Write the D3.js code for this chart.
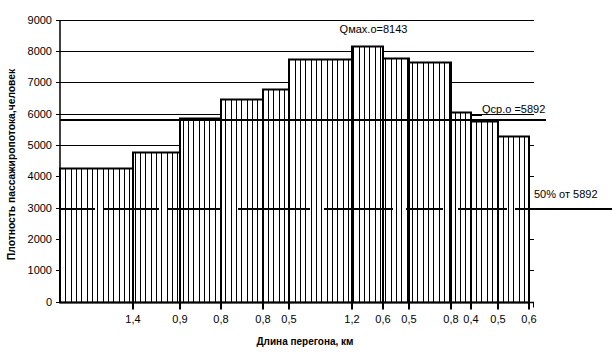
<!DOCTYPE html>
<html>
<head>
<meta charset="utf-8">
<script src="https://cdn.jsdelivr.net/npm/d3@7"></script>
<style>
  body { margin: 0; background: #fff; }
  text { font-family: Arial, "Liberation Sans", sans-serif; fill: #000; }
</style>
</head>
<body>
<script>
"use strict";
// длины перегонов, км
const segLengths = [1.4, 0.9, 0.8, 0.8, 0.5, 1.2, 0.6, 0.5, 0.8, 0.4, 0.5, 0.6];
const segLabels = ["1,4", "0,9", "0,8", "0,8", "0,5", "1,2", "0,6", "0,5", "0,8", "0,4", "0,5", "0,6"];
// плотность пассажиропотока, чел
const flowValues = [4270, 4780, 5870, 6450, 6790, 7740, 8143, 7770, 7630, 6050, 5770, 5290];
const yTicks = [0, 1000, 2000, 3000, 4000, 5000, 6000, 7000, 8000, 9000];
const avgLevel = 5790;
const halfLevel = 2940;
const maxText = "Qмах.о=8143";
const avgText = "Qср.о =5892";
const halfText = "50% от 5892";

const W = 612, H = 353;
const svg = d3.select("body").append("svg").attr("width", W).attr("height", H);

const x = d3.scaleLinear().domain([0, 9.1]).range([60, 534]);
const y = d3.scaleLinear().domain([0, 9000]).range([301.5, 19.5]);

const edges = [0, ...d3.cumsum(segLengths)];
const bars = flowValues.map((v, i) => ({x0: edges[i], x1: edges[i + 1], v: v, label: segLabels[i]}));
const px = v => Math.round(x(v));
const py = v => Math.round(y(v)) + 0.5;

// сетка
svg.append("g").selectAll("line")
  .data(yTicks.filter(d => d > 0))
  .enter().append("line")
  .attr("x1", x(0)).attr("x2", x.range()[1])
  .attr("y1", d => py(d)).attr("y2", d => py(d))
  .attr("stroke", "#000").attr("stroke-width", 1);

// столбцы
const g = svg.append("g");
g.selectAll("rect.bar")
  .data(bars)
  .enter().append("rect")
  .attr("class", "bar")
  .attr("x", d => px(d.x0)).attr("width", d => px(d.x1) - px(d.x0))
  .attr("y", d => py(d.v)).attr("height", d => py(0) - py(d.v))
  .attr("fill", "#fff");

// штриховка
const step = 16 / 3;
const hatch = d3.range(x(0) + step, px(edges[edges.length - 1]), step).map(hx => {
  const b = bars.find(d => hx >= px(d.x0) && hx < px(d.x1));
  return {hx: Math.round(hx) + 0.5, v: b ? b.v : 0};
});
g.selectAll("line.hatch")
  .data(hatch)
  .enter().append("line")
  .attr("x1", d => d.hx).attr("x2", d => d.hx)
  .attr("y1", d => py(d.v)).attr("y2", py(0))
  .attr("stroke", "#000").attr("stroke-width", 1);

g.selectAll("rect.outline")
  .data(bars)
  .enter().append("rect")
  .attr("x", d => px(d.x0)).attr("width", d => px(d.x1) - px(d.x0))
  .attr("y", d => py(d.v)).attr("height", d => py(0) - py(d.v))
  .attr("fill", "none").attr("stroke", "#000").attr("stroke-width", 2);

// оси
svg.append("line")
  .attr("x1", x(0)).attr("x2", x(0)).attr("y1", py(9000)).attr("y2", py(0))
  .attr("stroke", "#000").attr("stroke-width", 1.5);
svg.append("line")
  .attr("x1", x(0)).attr("x2", x.range()[1]).attr("y1", py(0)).attr("y2", py(0))
  .attr("stroke", "#000").attr("stroke-width", 1.5);
svg.append("g").selectAll("line")
  .data(yTicks)
  .enter().append("line")
  .attr("x1", x(0) - 4).attr("x2", x(0))
  .attr("y1", d => py(d)).attr("y2", d => py(d))
  .attr("stroke", "#000");
svg.append("g").selectAll("text")
  .data(yTicks)
  .enter().append("text")
  .attr("x", 52).attr("y", d => py(d)).attr("dy", "0.36em")
  .attr("text-anchor", "end").attr("font-size", 11)
  .text(d => d);

svg.append("g").selectAll("line")
  .data(bars)
  .enter().append("line")
  .attr("x1", d => px(d.x1)).attr("x2", d => px(d.x1))
  .attr("y1", py(0)).attr("y2", py(0) + 7)
  .attr("stroke", "#000").attr("stroke-width", 2);
svg.append("line")
  .attr("x1", x.range()[1] - 0.5).attr("x2", x.range()[1] - 0.5)
  .attr("y1", py(0)).attr("y2", py(0) + 5)
  .attr("stroke", "#000").attr("stroke-width", 1);
svg.append("g").selectAll("text")
  .data(bars)
  .enter().append("text")
  .attr("x", d => px(d.x1)).attr("y", 323)
  .attr("text-anchor", "middle").attr("font-size", 11)
  .text(d => d.label);

// 50% линия
svg.append("line")
  .attr("x1", 59).attr("x2", W).attr("y1", Math.round(y(halfLevel))).attr("y2", Math.round(y(halfLevel)))
  .attr("stroke", "#000").attr("stroke-width", 2)
  .attr("stroke-dasharray", "36,9,55,9,54,16,72,14,69,13,37,15,49,8,120");
svg.append("text")
  .attr("x", 534).attr("y", Math.round(y(halfLevel)) - 11)
  .attr("font-size", 11).text(halfText);

// средняя линия
svg.append("line")
  .attr("x1", x(0)).attr("x2", 546).attr("y1", Math.round(y(avgLevel))).attr("y2", Math.round(y(avgLevel)))
  .attr("stroke", "#000").attr("stroke-width", 2);
const b10 = bars[9];
svg.append("path")
  .attr("d", `M${px(b10.x1)},${py(b10.v)}V${py(b10.v) + 3}H${px(b10.x1) + 11}`)
  .attr("fill", "none").attr("stroke", "#000").attr("stroke-width", 1);
svg.append("text")
  .attr("x", 482).attr("y", py(b10.v) + 0.5)
  .attr("font-size", 11).text(avgText);

// максимум
const b7 = bars[6];
svg.append("text")
  .attr("x", (px(b7.x0) + px(b7.x1)) / 2 + 6).attr("y", 33)
  .attr("text-anchor", "middle").attr("font-size", 11)
  .text(maxText);

// подписи осей
svg.append("text")
  .attr("transform", "translate(15," + ((py(0) + py(9000)) / 2 + 3) + ") rotate(-90)")
  .attr("text-anchor", "middle").attr("font-size", 10.3).attr("font-weight", "bold")
  .text("Плотность пассажиропотока,человек");
svg.append("text")
  .attr("x", 305).attr("y", 345)
  .attr("text-anchor", "middle").attr("font-size", 10).attr("font-weight", "bold")
  .text("Длина перегона, км");
</script>
</body>
</html>
